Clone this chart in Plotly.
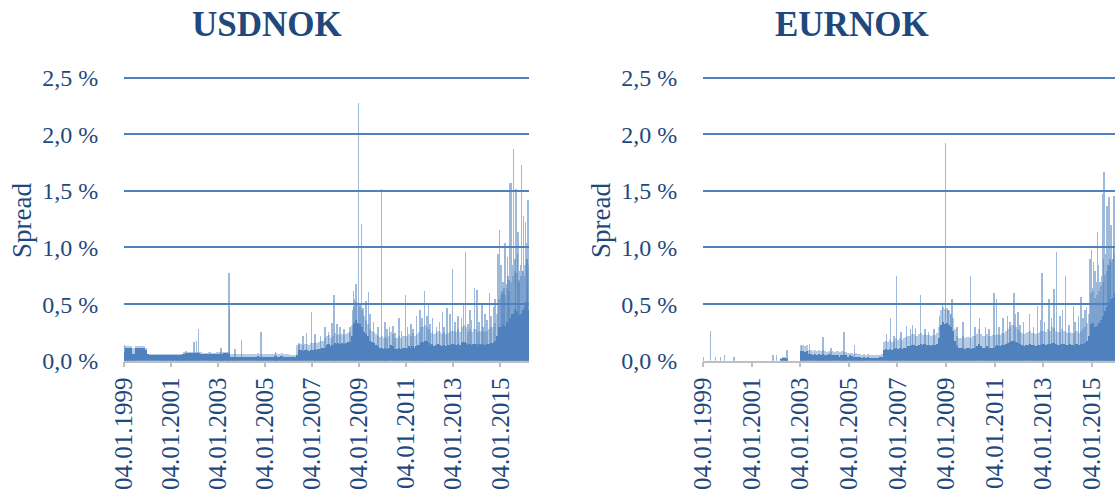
import pandas as pd
import plotly.graph_objects as go

# ---------------------------------------------------------------------------
# Data: bid/ask spread in percent. Monthly typical level (solid body), monthly
# upper envelope of the daily noise (fringe), and individual spike days.
# ---------------------------------------------------------------------------
usd_months = pd.date_range("1999-01-01", "2016-03-01", freq="MS")
eur_months = pd.date_range("1999-01-01", "2015-12-01", freq="MS")

usd_body = [
    0.08, 0.12, 0.12, 0.12, 0.06, 0.06, 0.12, 0.12, 0.12, 0.12, 0.12, 0.10,  # 1999
    0.06, 0.05, 0.05, 0.05, 0.05, 0.05, 0.05, 0.05, 0.05, 0.05, 0.05, 0.05,  # 2000
    0.05, 0.05, 0.05, 0.05, 0.05, 0.05, 0.06, 0.07, 0.07, 0.07, 0.07, 0.07,  # 2001
    0.07, 0.07, 0.07, 0.06, 0.06, 0.06, 0.06, 0.06, 0.06, 0.06, 0.06, 0.06,  # 2002
    0.06, 0.06, 0.06, 0.07, 0.07, 0.06, 0.035, 0.035, 0.035, 0.04, 0.035, 0.035,  # 2003
    0.035, 0.04, 0.04, 0.035, 0.04, 0.04, 0.035, 0.04, 0.045, 0.04, 0.04, 0.035,  # 2004
    0.04, 0.04, 0.035, 0.04, 0.04, 0.045, 0.04, 0.04, 0.045, 0.04, 0.035, 0.035,  # 2005
    0.035, 0.04, 0.035, 0.035, 0.05, 0.10, 0.10, 0.09, 0.10, 0.10, 0.09, 0.10,  # 2006
    0.10, 0.11, 0.10, 0.11, 0.11, 0.12, 0.12, 0.14, 0.15, 0.13, 0.14, 0.16,  # 2007
    0.15, 0.16, 0.15, 0.16, 0.15, 0.16, 0.17, 0.17, 0.22, 0.34, 0.36, 0.34,  # 2008
    0.33, 0.30, 0.26, 0.24, 0.22, 0.18, 0.17, 0.16, 0.14, 0.13, 0.12, 0.12,  # 2009
    0.11, 0.12, 0.11, 0.12, 0.14, 0.13, 0.11, 0.11, 0.12, 0.11, 0.12, 0.12,  # 2010
    0.12, 0.13, 0.12, 0.13, 0.12, 0.13, 0.14, 0.16, 0.17, 0.18, 0.18, 0.16,  # 2011
    0.14, 0.15, 0.13, 0.14, 0.15, 0.14, 0.13, 0.14, 0.13, 0.14, 0.14, 0.15,  # 2012
    0.15, 0.14, 0.15, 0.14, 0.16, 0.17, 0.16, 0.14, 0.15, 0.14, 0.15, 0.15,  # 2013
    0.14, 0.15, 0.14, 0.15, 0.14, 0.15, 0.15, 0.16, 0.16, 0.18, 0.22, 0.30,  # 2014
    0.30, 0.32, 0.31, 0.35, 0.34, 0.38, 0.42, 0.46, 0.44, 0.40, 0.42, 0.45,  # 2015
    0.48, 0.52, 0.45,                                                        # 2016
]
usd_fringe = [
    0.13, 0.13, 0.13, 0.13, 0.12, 0.12, 0.13, 0.13, 0.13, 0.13, 0.13, 0.12,
    0.06, 0.06, 0.06, 0.06, 0.06, 0.06, 0.06, 0.06, 0.06, 0.06, 0.06, 0.06,
    0.06, 0.06, 0.06, 0.06, 0.06, 0.06, 0.08, 0.09, 0.08, 0.08, 0.08, 0.08,
    0.08, 0.08, 0.08, 0.08, 0.07, 0.07, 0.07, 0.08, 0.07, 0.07, 0.07, 0.08,
    0.08, 0.08, 0.08, 0.08, 0.08, 0.08, 0.06, 0.06, 0.06, 0.06, 0.06, 0.06,
    0.06, 0.06, 0.06, 0.06, 0.06, 0.06, 0.06, 0.06, 0.07, 0.06, 0.06, 0.06,
    0.06, 0.06, 0.06, 0.06, 0.06, 0.07, 0.06, 0.06, 0.07, 0.06, 0.06, 0.06,
    0.05, 0.05, 0.05, 0.05, 0.14, 0.16, 0.15, 0.14, 0.15, 0.15, 0.14, 0.16,
    0.16, 0.17, 0.16, 0.17, 0.18, 0.18, 0.20, 0.22, 0.23, 0.20, 0.22, 0.25,
    0.23, 0.24, 0.23, 0.24, 0.23, 0.24, 0.25, 0.26, 0.32, 0.48, 0.52, 0.50,
    0.48, 0.45, 0.40, 0.36, 0.33, 0.28, 0.27, 0.26, 0.24, 0.22, 0.21, 0.22,
    0.20, 0.22, 0.20, 0.22, 0.26, 0.24, 0.20, 0.20, 0.22, 0.20, 0.22, 0.22,
    0.22, 0.24, 0.22, 0.25, 0.22, 0.24, 0.26, 0.30, 0.30, 0.32, 0.30, 0.28,
    0.25, 0.27, 0.24, 0.25, 0.27, 0.26, 0.24, 0.26, 0.24, 0.25, 0.26, 0.27,
    0.27, 0.26, 0.28, 0.26, 0.30, 0.32, 0.30, 0.26, 0.28, 0.26, 0.28, 0.28,
    0.26, 0.27, 0.26, 0.27, 0.26, 0.27, 0.28, 0.30, 0.30, 0.34, 0.42, 0.55,
    0.58, 0.60, 0.58, 0.65, 0.62, 0.70, 0.75, 0.80, 0.78, 0.72, 0.75, 0.80,
    0.85, 0.90, 0.85,
]
usd_spike_dates = [
    "1999-01-06", "2001-08-15", "2001-12-28", "2002-02-05", "2002-03-08",
    "2002-09-10", "2003-02-14", "2003-06-25", "2003-07-03", "2003-09-20",
    "2004-01-05", "2004-10-29", "2005-06-15", "2006-06-15", "2006-08-10",
    "2006-10-05", "2006-12-22", "2007-02-15", "2007-05-10", "2007-07-25",
    "2007-09-15", "2007-11-08", "2007-12-12", "2008-01-22", "2008-03-14",
    "2008-05-15", "2008-08-12", "2008-09-18", "2008-10-04", "2008-10-24",
    "2008-11-14", "2008-12-20", "2009-01-15", "2009-02-10", "2009-03-05",
    "2009-04-15", "2009-05-26", "2009-06-20", "2009-08-10", "2009-10-20",
    "2009-12-16", "2010-02-10", "2010-03-12", "2010-04-20", "2010-06-15",
    "2010-07-15", "2010-09-14", "2010-10-20", "2010-12-20", "2011-01-20",
    "2011-03-16", "2011-04-18", "2011-06-08", "2011-08-09", "2011-09-05",
    "2011-10-12", "2011-11-22", "2011-12-13", "2012-01-10", "2012-02-14",
    "2012-04-20", "2012-06-05", "2012-07-20", "2012-08-15", "2012-09-25",
    "2012-11-13", "2012-12-19", "2013-01-25", "2013-03-19", "2013-05-10",
    "2013-06-07", "2013-07-09", "2013-08-20", "2013-09-17", "2013-10-15",
    "2013-11-25", "2014-01-02", "2014-02-05", "2014-03-20", "2014-04-10",
    "2014-05-13", "2014-06-12", "2014-07-18", "2014-08-15", "2014-09-16",
    "2014-10-15", "2014-11-25", "2014-12-18", "2015-01-15", "2015-01-30",
    "2015-02-10", "2015-03-05", "2015-03-20", "2015-04-08", "2015-04-22",
    "2015-05-05", "2015-05-20", "2015-06-02", "2015-06-24", "2015-07-10",
    "2015-07-28", "2015-08-15", "2015-08-28", "2015-09-06", "2015-09-25",
    "2015-10-08", "2015-10-18", "2015-10-30", "2015-11-10", "2015-11-28",
    "2015-12-10", "2015-12-28", "2016-01-12", "2016-01-28", "2016-02-12",
    "2016-02-25", "2016-03-01", "2016-03-10",
]
usd_spike_vals = [
    0.14, 0.08, 0.17, 0.18, 0.28,
    0.08, 0.12, 0.78, 0.45, 0.11,
    0.19, 0.26, 0.08, 0.15, 0.22,
    0.25, 0.43, 0.24, 0.22, 0.30,
    0.26, 0.34, 0.58, 0.33, 0.30,
    0.28, 0.30, 0.45, 0.62, 0.55,
    0.68, 2.28, 0.50, 1.21, 0.47,
    0.53, 0.61, 0.42, 0.35, 0.30,
    1.52, 0.35, 0.28, 0.30, 0.31,
    0.25, 0.38, 0.27, 0.58, 0.30,
    0.33, 0.28, 0.40, 0.45, 0.38,
    0.62, 0.40, 0.50, 0.33, 0.38,
    0.30, 0.35, 0.43, 0.30, 0.47,
    0.42, 0.81, 0.35, 0.40, 0.38,
    0.50, 0.96, 0.33, 0.45, 0.36,
    0.65, 0.63, 0.35, 0.50, 0.30,
    0.42, 0.36, 0.60, 0.40, 0.48,
    0.55, 0.95, 1.16, 0.85, 0.62,
    0.70, 0.65, 1.04, 0.68, 0.92,
    0.75, 0.72, 1.57, 1.57, 0.85,
    1.87, 0.90, 0.78, 1.52, 0.95,
    1.14, 0.70, 0.80, 0.85, 1.73,
    0.80, 1.28, 0.75, 1.23, 1.04,
    0.90, 0.70, 1.42,
]

eur_body = [
    0, 0, 0, 0, 0, 0, 0, 0, 0, 0, 0, 0,                                      # 1999
    0, 0, 0, 0, 0, 0, 0, 0, 0, 0, 0, 0,                                      # 2000
    0, 0, 0, 0, 0, 0, 0, 0, 0, 0, 0, 0,                                      # 2001
    0, 0, 0.02, 0.03, 0.03, 0.02, 0, 0, 0, 0, 0, 0,                          # 2002
    0.09, 0.09, 0.08, 0.09, 0.06, 0.06, 0.05, 0.06, 0.05, 0.06, 0.05, 0.06,  # 2003
    0.05, 0.05, 0.06, 0.05, 0.05, 0.05, 0.05, 0.04, 0.05, 0.05, 0.05, 0.04,  # 2004
    0.05, 0.045, 0.04, 0.04, 0.035, 0.035, 0.03, 0.035, 0.03, 0.035, 0.03, 0.03,  # 2005
    0.03, 0.03, 0.03, 0.035, 0.04, 0.10, 0.11, 0.10, 0.11, 0.10, 0.11, 0.12,  # 2006
    0.11, 0.12, 0.11, 0.12, 0.12, 0.13, 0.13, 0.14, 0.14, 0.13, 0.14, 0.15,  # 2007
    0.14, 0.15, 0.14, 0.14, 0.13, 0.14, 0.14, 0.15, 0.20, 0.32, 0.35, 0.33,  # 2008
    0.34, 0.32, 0.30, 0.27, 0.18, 0.13, 0.12, 0.12, 0.12, 0.11, 0.12, 0.12,  # 2009
    0.11, 0.12, 0.12, 0.13, 0.15, 0.13, 0.12, 0.12, 0.13, 0.12, 0.12, 0.12,  # 2010
    0.13, 0.14, 0.13, 0.14, 0.14, 0.15, 0.16, 0.17, 0.18, 0.18, 0.17, 0.16,  # 2011
    0.15, 0.14, 0.13, 0.14, 0.14, 0.15, 0.14, 0.14, 0.13, 0.14, 0.14, 0.15,  # 2012
    0.15, 0.14, 0.15, 0.15, 0.16, 0.16, 0.15, 0.14, 0.14, 0.15, 0.15, 0.14,  # 2013
    0.14, 0.15, 0.14, 0.14, 0.15, 0.14, 0.15, 0.15, 0.16, 0.18, 0.22, 0.33,  # 2014
    0.34, 0.30, 0.31, 0.34, 0.36, 0.40, 0.44, 0.48, 0.52, 0.55, 0.56, 0.60,  # 2015
]
eur_fringe = [
    0, 0, 0, 0, 0, 0, 0, 0, 0, 0, 0, 0,
    0, 0, 0, 0, 0, 0, 0, 0, 0, 0, 0, 0,
    0, 0, 0, 0, 0, 0, 0, 0, 0, 0, 0, 0,
    0, 0, 0.03, 0.04, 0.04, 0.03, 0, 0, 0, 0, 0, 0,
    0.14, 0.14, 0.13, 0.14, 0.10, 0.10, 0.09, 0.10, 0.09, 0.10, 0.09, 0.10,
    0.09, 0.08, 0.09, 0.08, 0.09, 0.08, 0.09, 0.08, 0.09, 0.08, 0.08, 0.07,
    0.07, 0.07, 0.06, 0.07, 0.06, 0.06, 0.05, 0.06, 0.05, 0.06, 0.05, 0.05,
    0.05, 0.05, 0.05, 0.05, 0.06, 0.17, 0.18, 0.17, 0.19, 0.17, 0.18, 0.20,
    0.19, 0.20, 0.19, 0.20, 0.21, 0.22, 0.22, 0.24, 0.24, 0.22, 0.24, 0.25,
    0.23, 0.24, 0.23, 0.23, 0.22, 0.23, 0.23, 0.25, 0.30, 0.45, 0.48, 0.46,
    0.47, 0.45, 0.42, 0.38, 0.28, 0.22, 0.20, 0.20, 0.22, 0.20, 0.21, 0.21,
    0.20, 0.22, 0.22, 0.24, 0.28, 0.24, 0.22, 0.22, 0.24, 0.22, 0.22, 0.23,
    0.23, 0.24, 0.23, 0.25, 0.25, 0.27, 0.28, 0.30, 0.32, 0.32, 0.30, 0.28,
    0.26, 0.25, 0.24, 0.25, 0.26, 0.27, 0.25, 0.25, 0.24, 0.25, 0.26, 0.27,
    0.27, 0.26, 0.28, 0.27, 0.30, 0.29, 0.27, 0.26, 0.26, 0.28, 0.27, 0.26,
    0.25, 0.26, 0.25, 0.25, 0.27, 0.25, 0.27, 0.28, 0.30, 0.34, 0.42, 0.60,
    0.62, 0.56, 0.58, 0.62, 0.66, 0.70, 0.76, 0.80, 0.85, 0.88, 0.90, 0.95,
]
eur_spike_dates = [
    "1999-01-05", "1999-04-27", "1999-07-08", "1999-09-23", "1999-11-25",
    "2000-04-15", "2001-11-25", "2002-01-10", "2002-06-20", "2003-01-20",
    "2003-05-25", "2003-12-15", "2004-04-10", "2004-10-25", "2005-04-01",
    "2006-07-20", "2006-09-20", "2006-11-10", "2006-12-18", "2007-03-01",
    "2007-05-20", "2007-07-18", "2007-08-20", "2007-10-01", "2007-12-16",
    "2008-02-20", "2008-04-15", "2008-07-10", "2008-09-25", "2008-11-10",
    "2008-12-28", "2009-01-28", "2009-03-10", "2009-04-05", "2009-06-15",
    "2009-09-15", "2010-01-05", "2010-03-15", "2010-05-20", "2010-08-18",
    "2010-10-12", "2010-12-28", "2011-01-30", "2011-03-10", "2011-05-12",
    "2011-07-12", "2011-08-25", "2011-10-20", "2011-11-15", "2011-12-20",
    "2012-01-18", "2012-03-14", "2012-06-12", "2012-08-10", "2012-10-05",
    "2012-11-20", "2012-12-18", "2013-01-22", "2013-03-30", "2013-05-05",
    "2013-06-15", "2013-07-22", "2013-09-10", "2013-10-16", "2013-12-05",
    "2014-01-20", "2014-03-30", "2014-04-25", "2014-06-18", "2014-07-22",
    "2014-08-20", "2014-09-22", "2014-10-15", "2014-12-02", "2014-12-28",
    "2015-01-10", "2015-01-26", "2015-02-20", "2015-03-10", "2015-03-28",
    "2015-04-15", "2015-05-05", "2015-05-25", "2015-06-10", "2015-06-25",
    "2015-07-08", "2015-07-25", "2015-08-15", "2015-08-30", "2015-09-20",
    "2015-10-05", "2015-10-20", "2015-11-10", "2015-11-25", "2015-12-05",
]
eur_spike_vals = [
    0.04, 0.27, 0.04, 0.04, 0.05,
    0.04, 0.05, 0.05, 0.10, 0.13,
    0.15, 0.21, 0.12, 0.26, 0.14,
    0.24, 0.38, 0.22, 0.75, 0.26,
    0.31, 0.28, 0.32, 0.29, 0.58,
    0.28, 0.26, 0.28, 0.40, 0.50,
    1.93, 0.45, 0.42, 0.55, 0.30,
    0.35, 0.75, 0.30, 0.38, 0.30,
    0.28, 0.60, 0.55, 0.30, 0.38,
    0.40, 0.35, 0.60, 0.42, 0.43,
    0.32, 0.35, 0.42, 0.30, 0.49,
    0.36, 0.78, 0.35, 0.55, 0.38,
    0.64, 0.96, 0.40, 0.45, 0.75,
    0.32, 0.49, 0.35, 0.40, 0.57,
    0.38, 0.45, 0.48, 0.90, 0.98,
    0.65, 0.88, 0.80, 0.70, 1.14,
    0.85, 0.70, 0.75, 1.48, 0.90,
    1.67, 0.95, 1.37, 0.85, 1.45,
    0.90, 1.20, 0.90, 1.00, 1.46,
]

# Axis ticks
tick_dates = ["1999-01-04", "2001-01-04", "2003-01-04", "2005-01-04",
              "2007-01-04", "2009-01-04", "2011-01-04", "2013-01-04",
              "2015-01-04"]
tick_text = ["04.01.1999", "04.01.2001", "04.01.2003", "04.01.2005",
             "04.01.2007", "04.01.2009", "04.01.2011", "04.01.2013",
             "04.01.2015"]
y_ticks = [0.0, 0.5, 1.0, 1.5, 2.0, 2.5]
y_text = ["0,0 %", "0,5 %", "1,0 %", "1,5 %", "2,0 %", "2,5 %"]

BAR = "#4F81BD"
FRINGE = "rgba(79,129,189,0.42)"
NAVY = "#1F497D"
AXIS_GRAY = "#BFBFBF"
SERIF = "Liberation Serif"

DAY_MS = 86400000
SPIKE_W = 9 * DAY_MS


def month_widths(months):
    nxt = months + pd.offsets.MonthBegin(1)
    return [(b - a).total_seconds() * 1000 for a, b in zip(months, nxt)]


def add_panel(fig, months, body, fringe, sdates, svals, xa, ya):
    widths = month_widths(months)
    common = dict(xaxis=xa, yaxis=ya, showlegend=False, hoverinfo="skip")
    fig.add_trace(go.Bar(x=months, y=fringe, width=widths, offset=0,
                         marker=dict(color=FRINGE, line=dict(width=0)),
                         **common))
    fig.add_trace(go.Bar(x=months, y=body, width=widths, offset=0,
                         marker=dict(color=BAR, line=dict(width=0)),
                         **common))
    fig.add_trace(go.Bar(x=pd.to_datetime(sdates), y=svals,
                         width=[SPIKE_W] * len(svals), offset=-SPIKE_W / 2,
                         marker=dict(color=BAR, line=dict(width=0), opacity=0.55),
                         **common))


fig = go.Figure()
add_panel(fig, usd_months, usd_body, usd_fringe,
          usd_spike_dates, usd_spike_vals, "x", "y")
add_panel(fig, eur_months, eur_body, eur_fringe,
          eur_spike_dates, eur_spike_vals, "x2", "y2")

W, H = 1115, 495
Y_TOP = 2.51
px_per_unit = (360.7 - 77.7) / 2.5
y_dom = [1 - 360.7 / H, 1 - (360.7 - Y_TOP * px_per_unit) / H]

xaxis_style = dict(
    type="date", tickmode="array", tickvals=tick_dates, ticktext=tick_text,
    tickangle=-90, tickfont=dict(family=SERIF, size=25, color=NAVY),
    ticks="outside", ticklen=5, tickwidth=1.5, tickcolor=AXIS_GRAY,
    showline=True, linecolor=AXIS_GRAY, linewidth=1.5,
    showgrid=False, zeroline=False, fixedrange=True, automargin=False,
)
yaxis_style = dict(
    range=[0, Y_TOP], tickmode="array", tickvals=y_ticks, ticktext=y_text,
    tickfont=dict(family=SERIF, size=24, color=NAVY),
    ticks="outside", ticklen=20, tickcolor="rgba(0,0,0,0)",
    showgrid=True, gridcolor=BAR, gridwidth=1.6,
    zeroline=False, showline=False, domain=y_dom, fixedrange=True,
    automargin=False,
)

fig.update_layout(
    width=W, height=H,
    margin=dict(l=0, r=0, t=0, b=0, pad=0, autoexpand=False),
    paper_bgcolor="white", plot_bgcolor="white",
    barmode="overlay", bargap=0,
    xaxis=dict(domain=[124 / W, 529 / W], range=["1999-01-04", "2016-03-23"],
               anchor="y", **xaxis_style),
    yaxis=dict(anchor="x", **yaxis_style),
    xaxis2=dict(domain=[703 / W, 1.0], range=["1999-01-04", "2015-12-16"],
                anchor="y2", **xaxis_style),
    yaxis2=dict(anchor="x2", **yaxis_style),
    annotations=[
        dict(text="<b>USDNOK</b>", x=266.5 / W, y=1 - 25 / H, xref="paper",
             yref="paper", showarrow=False, xanchor="center", yanchor="middle",
             font=dict(family=SERIF, size=35, color=NAVY)),
        dict(text="<b>EURNOK</b>", x=851.7 / W, y=1 - 25 / H, xref="paper",
             yref="paper", showarrow=False, xanchor="center", yanchor="middle",
             font=dict(family=SERIF, size=35, color=NAVY)),
        dict(text="Spread", x=22.5 / W, y=1 - 220.4 / H, xref="paper",
             yref="paper", showarrow=False, textangle=-90,
             xanchor="center", yanchor="middle",
             font=dict(family=SERIF, size=27, color=NAVY)),
        dict(text="Spread", x=601.5 / W, y=1 - 220.4 / H, xref="paper",
             yref="paper", showarrow=False, textangle=-90,
             xanchor="center", yanchor="middle",
             font=dict(family=SERIF, size=27, color=NAVY)),
    ],
)

fig.write_html("out.html")
